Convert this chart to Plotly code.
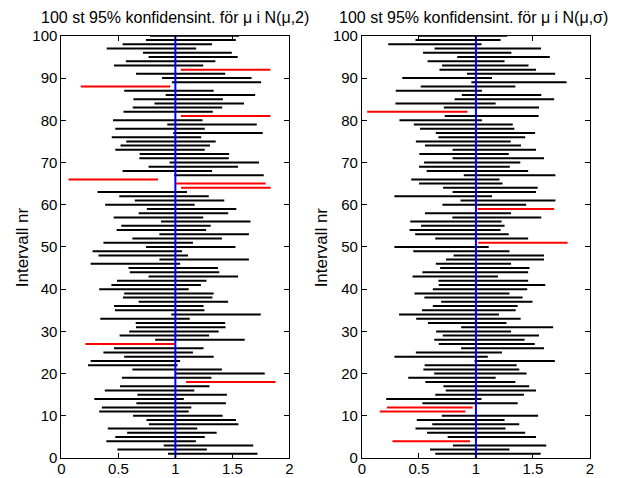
import plotly.graph_objects as go

# Interval number (1..100)
nr = list(range(1, 101))

# Left panel: N(mu,2), known sigma -> lower / upper bounds, index 0 = interval 1
left_lo = [0.935, 0.491, 0.898, 0.395, 0.473, 0.577, 0.407, 0.768, 0.747, 0.629,
           0.332, 0.355, 0.658, 0.289, 0.667, 0.381, 0.514, 1.094, 0.531, 0.995,
           0.623, 0.234, 0.257, 0.551, 0.369, 0.462, 0.211, 0.823, 0.511, 0.595,
           0.655, 0.652, 0.341, 0.964, 0.470, 0.462, 0.678, 0.540, 0.551, 0.332,
           0.439, 0.488, 0.765, 0.600, 0.589, 0.257, 0.860, 0.326, 0.274, 0.742,
           0.369, 0.623, 0.860, 0.485, 0.525, 0.874, 0.459, 0.678, 0.750, 0.384,
           0.644, 0.508, 0.317, 1.050, 1.007, 0.063, 0.990, 0.537, 0.765, 0.949,
           0.684, 0.687, 0.473, 0.519, 0.569, 0.442, 0.981, 0.473, 0.929, 0.453,
           1.048, 0.545, 0.626, 0.817, 0.632, 0.915, 0.551, 0.170, 0.970, 0.883,
           0.655, 1.048, 0.462, 0.566, 0.765, 0.716, 0.398, 0.537, 0.742, 0.779]
left_hi = [1.720, 1.276, 1.683, 1.180, 1.258, 1.362, 1.192, 1.553, 1.532, 1.414,
           1.117, 1.140, 1.443, 1.074, 1.452, 1.166, 1.299, 1.879, 1.316, 1.784,
           1.408, 1.019, 1.042, 1.336, 1.154, 1.247, 0.996, 1.608, 1.296, 1.380,
           1.440, 1.437, 1.126, 1.749, 1.255, 1.247, 1.463, 1.325, 1.336, 1.117,
           1.224, 1.273, 1.550, 1.385, 1.374, 1.042, 1.645, 1.111, 1.059, 1.527,
           1.154, 1.408, 1.645, 1.270, 1.310, 1.659, 1.244, 1.463, 1.535, 1.169,
           1.429, 1.293, 1.102, 1.835, 1.792, 0.848, 1.775, 1.322, 1.550, 1.734,
           1.469, 1.472, 1.258, 1.304, 1.354, 1.227, 1.766, 1.258, 1.714, 1.238,
           1.833, 1.328, 1.411, 1.602, 1.417, 1.700, 1.336, 0.955, 1.752, 1.668,
           1.437, 1.833, 1.244, 1.351, 1.547, 1.495, 1.183, 1.322, 1.530, 1.558]

# Right panel: N(mu,sigma), estimated sigma
right_lo = [0.643, 0.597, 0.798, 0.268, 0.752, 0.571, 0.470, 0.617, 0.481, 0.700,
            0.156, 0.219, 0.530, 0.213, 0.643, 0.735, 0.715, 0.556, 0.406, 0.634,
            0.539, 0.550, 0.988, 0.285, 0.473, 0.870, 0.674, 0.634, 0.709, 0.651,
            0.870, 0.579, 0.476, 0.326, 0.527, 0.622, 0.695, 0.548, 0.461, 0.622,
            0.674, 0.671, 0.444, 0.530, 0.686, 0.648, 0.738, 0.804, 0.450, 0.285,
            1.020, 0.643, 0.467, 0.418, 0.519, 0.424, 0.793, 0.553, 1.014, 0.706,
            0.865, 0.285, 0.795, 0.712, 0.501, 0.432, 0.893, 0.568, 0.501, 0.545,
            0.795, 0.504, 0.795, 0.553, 0.473, 0.671, 0.648, 0.510, 0.455, 0.329,
            0.726, 0.046, 0.718, 0.294, 0.813, 0.876, 0.297, 0.516, 0.960, 0.354,
            0.922, 0.680, 0.703, 0.576, 0.836, 0.536, 0.637, 0.231, 0.470, 0.496]
right_hi = [1.568, 1.294, 1.617, 0.948, 1.527, 1.432, 1.259, 1.380, 1.251, 1.545,
            0.908, 0.971, 1.366, 1.049, 1.421, 1.527, 1.467, 1.346, 1.173, 1.444,
            1.380, 1.357, 1.692, 1.104, 1.228, 1.597, 1.516, 1.427, 1.553, 1.308,
            1.677, 1.268, 1.392, 1.202, 1.349, 1.366, 1.496, 1.409, 1.294, 1.450,
            1.608, 1.458, 1.193, 1.458, 1.470, 1.308, 1.597, 1.597, 1.294, 1.112,
            1.804, 1.458, 1.288, 1.216, 1.251, 1.225, 1.573, 1.308, 1.686, 1.441,
            1.697, 1.141, 1.527, 1.542, 1.233, 1.207, 1.697, 1.458, 1.297, 1.389,
            1.597, 1.288, 1.527, 1.395, 1.305, 1.432, 1.519, 1.337, 1.323, 1.052,
            1.550, 0.925, 1.553, 1.173, 1.686, 1.573, 1.052, 1.346, 1.795, 1.141,
            1.695, 1.527, 1.461, 1.251, 1.648, 1.311, 1.571, 1.049, 1.216, 1.274]

true_mu = 1
titles = ["100 st 95% konfidensint. för μ i N(μ,2)",
          "100 st 95% konfidensint. för μ i N(μ,σ)"]
ylabel = "Intervall nr"
xticks = [0, 0.5, 1, 1.5, 2]
yticks = list(range(0, 101, 10))

FONT = "Liberation Sans, Arial, sans-serif"
fig = go.Figure()


def segments(lo, hi, miss):
    xs, ys = [], []
    for a, b, n in zip(lo, hi, nr):
        is_miss = a > true_mu or b < true_mu
        if is_miss == miss:
            xs += [a, b, None]
            ys += [n, n, None]
    return xs, ys


for k, (lo, hi) in enumerate([(left_lo, left_hi), (right_lo, right_hi)]):
    xa = "x" if k == 0 else "x2"
    ya = "y" if k == 0 else "y2"
    for miss, col in [(False, "black"), (True, "red")]:
        xs, ys = segments(lo, hi, miss)
        fig.add_trace(go.Scatter(x=xs, y=ys, mode="lines", xaxis=xa, yaxis=ya,
                                 line=dict(color=col, width=2), showlegend=False,
                                 hoverinfo="skip"))
    fig.add_trace(go.Scatter(x=[true_mu, true_mu], y=[0, 100], mode="lines",
                             xaxis=xa, yaxis=ya, line=dict(color="blue", width=2),
                             showlegend=False, hoverinfo="skip"))

W, H = 620, 478
# page placement of the plotting area as measured in the rendered page
OFFX, OFFY, HEFF = 8.5, 15.5, 462.2


def px(X):
    return (X - OFFX) / W


def py(Y):
    return 1 - (Y - OFFY) / HEFF


dx1 = [px(58.5), px(289.5)]
dx2 = [px(363), px(594)]
dy = [py(457.7), py(34.4)]

axcommon = dict(showline=True, linecolor="black", linewidth=1, mirror="ticks",
                ticks="inside", ticklen=5, tickcolor="black", showgrid=False,
                zeroline=False, tickfont=dict(family=FONT, size=15, color="black"))
xextra = dict(range=[0, 2], tickvals=xticks, ticktext=[str(t) for t in xticks],
              ticklabelstandoff=-3)

fig.update_layout(
    width=W, height=H, margin=dict(l=0, r=0, t=0, b=0),
    paper_bgcolor="white", plot_bgcolor="white",
    xaxis=dict(domain=dx1, anchor="y", **xextra, **axcommon),
    yaxis=dict(domain=dy, range=[0, 100], tickvals=yticks, anchor="x", **axcommon),
    xaxis2=dict(domain=dx2, anchor="y2", **xextra, **axcommon),
    yaxis2=dict(domain=dy, range=[0, 100], tickvals=yticks, anchor="x2", **axcommon),
)

for cx, t in [(px(174), titles[0]), (px(476), titles[1])]:
    fig.add_annotation(x=cx, y=py(16), xref="paper", yref="paper", text=t,
                       showarrow=False, xanchor="center", yanchor="middle",
                       font=dict(family=FONT, size=16, color="black"))
for lx in [px(20), px(322)]:
    fig.add_annotation(x=lx, y=py(246), xref="paper", yref="paper", text=ylabel,
                       textangle=-90, showarrow=False, xanchor="center", yanchor="middle",
                       font=dict(family=FONT, size=17, color="black"))

fig.write_html("out.html")
